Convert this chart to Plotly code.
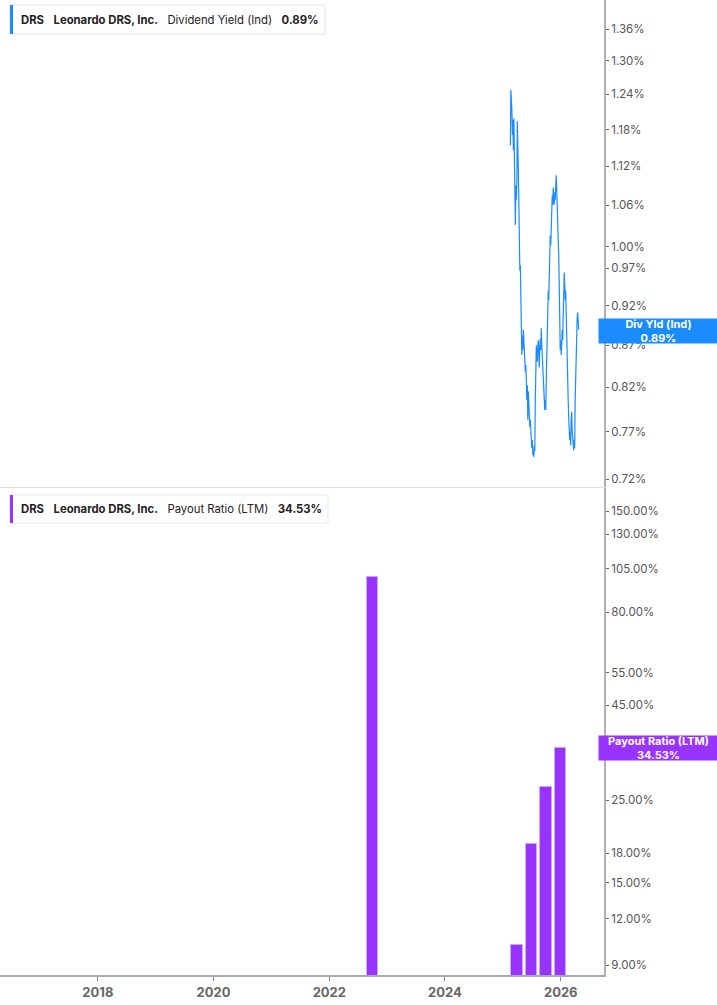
import numpy as np
import pandas as pd
import plotly.graph_objects as go
from plotly.subplots import make_subplots

# dividend yield (ind), %, ~every 3 days
yield_start = "2025-02-17"
yield_end = "2026-04-24"
yield_vals = [
    1.154, 1.248, 1.230, 1.213, 1.171, 1.196, 1.146, 1.199, 1.138, 1.083,
    1.031, 1.090, 1.068, 1.098, 1.194, 1.146, 1.114, 1.038, 1.024, 0.967,
    0.974, 0.927, 0.901, 0.858, 0.882, 0.864, 0.889, 0.870, 0.864, 0.852,
    0.838, 0.846, 0.828, 0.805, 0.822, 0.783, 0.815, 0.805, 0.794, 0.775,
    0.783, 0.763, 0.770, 0.752, 0.761, 0.745, 0.750, 0.743, 0.755, 0.749,
    0.805, 0.864, 0.870, 0.855, 0.850, 0.870, 0.876, 0.861, 0.843, 0.866,
    0.878, 0.864, 0.891, 0.870, 0.858, 0.850, 0.838, 0.819, 0.811, 0.794,
    0.805, 0.794, 0.828, 0.870, 0.895, 0.914, 0.940, 0.927, 0.981, 0.997,
    1.016, 1.002, 1.046, 1.035, 1.075, 1.061, 1.087, 1.068, 1.061, 1.080,
    1.068, 1.090, 1.106, 1.083, 1.061, 1.035, 1.024, 0.988, 0.947, 0.882,
    0.864, 0.876, 0.858, 0.870, 0.889, 0.876, 0.907, 0.927, 0.964, 0.947,
    0.927, 0.940, 0.901, 0.876, 0.852, 0.822, 0.805, 0.785, 0.772, 0.761,
    0.770, 0.755, 0.783, 0.792, 0.772, 0.763, 0.755, 0.750, 0.761, 0.752,
    0.805, 0.834, 0.870, 0.882, 0.904, 0.911, 0.899, 0.889,
]

# payout ratio (LTM), %
payout_dates = ["2022-09-30", "2025-03-31", "2025-06-30", "2025-09-30", "2025-12-31"]
payout_vals = [99.6, 10.2, 19.1, 27.1, 34.53]

yield_ticks = [0.72, 0.77, 0.82, 0.87, 0.92, 0.97, 1.00, 1.06, 1.12, 1.18, 1.24, 1.30, 1.36]
payout_ticks = [9, 12, 15, 18, 25, 45, 55, 80, 105, 130, 150]
year_ticks = ["2018-01-01", "2020-01-01", "2022-01-01", "2024-01-01", "2026-01-01"]
year_labels = ["2018", "2020", "2022", "2024", "2026"]

BLUE = "#1a8cff"
PURPLE = "#9933ff"
FONT = "Inter"

W, H = 717, 1005
PLOT_W, PLOT_H = 604, 975


def py(px):
    # pixel row (from top) -> paper y
    return 1 - px / PLOT_H


def px_x(px):
    return px / PLOT_W


fig = make_subplots(rows=2, cols=1, shared_xaxes=True, vertical_spacing=0.001)

yield_dates = pd.date_range(yield_start, yield_end, periods=len(yield_vals))
fig.add_trace(go.Scatter(x=yield_dates, y=yield_vals, mode="lines",
                         line=dict(color=BLUE, width=1.2), showlegend=False), row=1, col=1)

bar_w = 70 * 24 * 3600 * 1000
fig.add_trace(go.Bar(x=pd.to_datetime(payout_dates), y=payout_vals, width=bar_w,
                     marker=dict(color=PURPLE, line=dict(color="#cfa6ff", width=1)),
                     showlegend=False), row=2, col=1)

xr = ["2016-04-23", "2026-10-01"]
fig.update_xaxes(range=xr, showgrid=False, zeroline=False)
fig.update_xaxes(showticklabels=False, showline=True, linecolor="#dddddd", linewidth=1,
                 ticks="", row=1, col=1)
fig.update_xaxes(showline=True, linecolor="#aaaaaa", linewidth=2, ticks="outside",
                 ticklen=4, tickcolor="#888888", tickvals=pd.to_datetime(year_ticks),
                 ticktext=year_labels,
                 tickfont=dict(family=FONT, size=13, color="#666666", weight="bold"),
                 row=2, col=1)

yaxis_style = dict(type="log", side="right", showgrid=False, zeroline=False,
                   showline=True, linecolor="#b0b0b0", linewidth=2, ticks="outside",
                   ticklen=3, tickcolor="#666666",
                   tickfont=dict(family=FONT, size=11.5, color="#555555"))
fig.update_yaxes(**yaxis_style, range=[np.log10(0.712), np.log10(1.417)],
                 tickvals=yield_ticks, ticktext=["%.2f%%" % v for v in yield_ticks],
                 domain=[py(487), 1], row=1, col=1)
fig.update_yaxes(**yaxis_style, range=[np.log10(8.46), np.log10(173)],
                 tickvals=payout_ticks, ticktext=["%.2f%%" % v for v in payout_ticks],
                 domain=[0, py(488)], row=2, col=1)

# legend boxes top-left of each panel
shapes = []
annotations = []
for top, bottom, right, color, label, val in [
    (5, 34, 325, BLUE, "Dividend Yield (Ind)", "0.89%"),
    (495, 523, 328, PURPLE, "Payout Ratio (LTM)", "34.53%"),
]:
    shapes.append(dict(type="rect", xref="paper", yref="paper", x0=px_x(10), x1=px_x(right),
                       y0=py(bottom), y1=py(top), line=dict(color="#e6e6e6", width=1),
                       fillcolor="white", layer="above"))
    shapes.append(dict(type="rect", xref="paper", yref="paper", x0=px_x(10), x1=px_x(13),
                       y0=py(bottom), y1=py(top), line=dict(width=0), fillcolor=color,
                       layer="above"))
    annotations.append(dict(xref="paper", yref="paper", x=px_x(19), y=py((top + bottom) / 2),
                            xanchor="left", yanchor="middle", showarrow=False,
                            text="<b>DRS</b>   <b>Leonardo DRS, Inc.</b>   %s   <b>%s</b>" % (label, val),
                            font=dict(family=FONT, size=11.3, color="#222222")))

# value tags on the right axis
annotations.append(dict(xref="paper", yref="y", x=1, xshift=-6, y=np.log10(0.89),
                        yshift=-2, xanchor="left", yanchor="middle", showarrow=False,
                        width=119, height=24, borderpad=0,
                        text="<b>Div Yld (Ind)</b><br><b>0.89%</b>", align="center",
                        bgcolor=BLUE, font=dict(family=FONT, size=11, color="white")))
annotations.append(dict(xref="paper", yref="y2", x=1, xshift=-6, y=np.log10(34.53),
                        xanchor="left", yanchor="middle", showarrow=False,
                        width=119, height=24, borderpad=0,
                        text="<b>Payout Ratio (LTM)</b><br><b>34.53%</b>", align="center",
                        bgcolor=PURPLE, font=dict(family=FONT, size=11, color="white")))

fig.update_layout(width=W, height=H, margin=dict(l=0, r=W - PLOT_W, t=0, b=H - PLOT_H),
                  plot_bgcolor="white", paper_bgcolor="white", bargap=0,
                  shapes=shapes, annotations=annotations, showlegend=False)

fig.write_html("out.html", config={"displayModeBar": False},
               post_script="document.body.style.margin='0';")
